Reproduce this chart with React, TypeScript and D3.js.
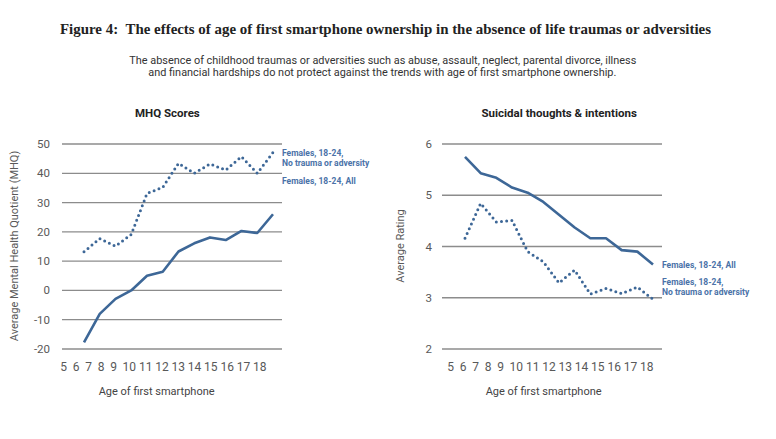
import React from "react";
import * as d3 from "d3";

const ages = [6, 7, 8, 9, 10, 11, 12, 13, 14, 15, 16, 17, 18];
const tickLabels = ["5", "6", "7", "8", "9", "10", "11", "12", "13", "14", "15", "16", "17", "18"];

const mhqAll = [-17.7, -8.0, -2.9, 0.0, 5.0, 6.4, 13.3, 16.1, 18.1, 17.2, 20.3, 19.6, 26.0];
const mhqNoTrauma = [13.2, 17.7, 15.1, 19.1, 33.1, 35.2, 43.4, 40.0, 43.2, 41.1, 45.7, 40.0, 47.1];
const mhqTicks = [50, 40, 30, 20, 10, 0, -10, -20];

const suiAll = [5.75, 5.43, 5.34, 5.15, 5.05, 4.87, 4.62, 4.37, 4.16, 4.16, 3.93, 3.9, 3.65];
const suiNoTrauma = [4.16, 4.84, 4.48, 4.51, 3.9, 3.7, 3.29, 3.54, 3.07, 3.18, 3.08, 3.21, 2.97];
const suiTicks = [6, 5, 4, 3, 2];

const BLUE = "#3d6797";
const LABEL_BLUE = "#4a72a8";
const GRID = "#8c8c8c";
const TEXT = "#595959";

function tickPositions(labels: string[], start: number) {
  const digitW = 6.7;
  const out: number[] = [];
  let x = start;
  labels.forEach((l, i) => {
    if (i > 0) {
      const prev = labels[i - 1];
      const gap = prev.length === 1 ? 5.8 : 2.9;
      x += (prev.length * digitW) / 2 + gap + (l.length * digitW) / 2;
    }
    out.push(x);
  });
  return out;
}

type PanelProps = {
  title: string;
  titleX: number;
  gridX: [number, number];
  dataX: [number, number];
  yDomain: [number, number];
  yTicks: number[];
  all: number[];
  noTrauma: number[];
  yLabel: string;
  yLabelX: number;
  tickLabelX: number;
  tickStart: number;
  labelX: number;
  allLabelY: number;
  ntLabelY: number;
};

function Panel(p: PanelProps) {
  const y = d3.scaleLinear().domain(p.yDomain).range([349, 144]);
  const x = d3.scaleLinear().domain([6, 18]).range(p.dataX);
  const line = d3
    .line<number>()
    .x((_, i) => x(ages[i]))
    .y((v) => y(v));
  const tp = tickPositions(tickLabels, p.tickStart);
  const xCenter = (tp[0] + tp[tp.length - 1]) / 2;
  return (
    <g>
      <text x={p.titleX} y={117} fontFamily="Roboto" fontWeight="bold" fontSize={11.5} fill="#222">
        {p.title}
      </text>
      {p.yTicks.map((t) => (
        <g key={t}>
          <line x1={p.gridX[0]} x2={p.gridX[1]} y1={y(t)} y2={y(t)} stroke={GRID} strokeWidth={1.3} />
          <text x={p.tickLabelX} y={y(t) + 4} textAnchor="end" fontFamily="Roboto" fontSize={11.5} fill={TEXT}>
            {t}
          </text>
        </g>
      ))}
      {tickLabels.map((l, i) => (
        <text key={l} x={tp[i]} y={371} textAnchor="middle" fontFamily="Roboto" fontSize={12} fill={TEXT}>
          {l}
        </text>
      ))}
      <text x={xCenter - 5} y={395} textAnchor="middle" fontFamily="Roboto" fontSize={11} fill="#444">
        Age of first smartphone
      </text>
      <text
        transform={`translate(${p.yLabelX},${246}) rotate(-90)`}
        textAnchor="middle"
        fontFamily="Roboto"
        fontSize={11}
        fill={TEXT}
      >
        {p.yLabel}
      </text>
      <path d={line(p.all) || ""} fill="none" stroke={BLUE} strokeWidth={2.6} strokeLinejoin="round" />
      <path
        d={line(p.noTrauma) || ""}
        fill="none"
        stroke={BLUE}
        strokeWidth={3}
        strokeLinecap="round"
        strokeDasharray="0 5.2"
      />
      <text x={p.labelX} y={p.allLabelY} fontFamily="Roboto" fontWeight="bold" fontSize={8.5} fill={LABEL_BLUE}>
        Females, 18-24, All
      </text>
      <text x={p.labelX} y={p.ntLabelY} fontFamily="Roboto" fontWeight="bold" fontSize={8.5} fill={LABEL_BLUE}>
        <tspan x={p.labelX}>Females, 18-24,</tspan>
        <tspan x={p.labelX} dy={9.5}>
          No trauma or adversity
        </tspan>
      </text>
    </g>
  );
}

export default function App() {
  return (
    <svg
      width={776}
      height={439}
      viewBox="0 0 776 439"
      style={{ position: "absolute", left: 0, top: 0, background: "#fff" }}
    >
      <rect width={776} height={439} fill="#fff" />
      <text
        x={385.5}
        y={34}
        textAnchor="middle"
        fontFamily="Liberation Serif"
        fontWeight="bold"
        fontSize={14.5}
        fill="#222"
        textLength={651}
        lengthAdjust="spacingAndGlyphs"
      >
        Figure 4:{"\u00a0\u00a0"}The effects of age of first smartphone ownership in the absence of life traumas or adversities
      </text>
      <text
        x={382.8}
        y={63.5}
        textAnchor="middle"
        fontFamily="Roboto"
        fontSize={11}
        fill="#333"
        textLength={507}
        lengthAdjust="spacingAndGlyphs"
      >
        The absence of childhood traumas or adversities such as abuse, assault, neglect, parental divorce, illness
      </text>
      <text
        x={382.3}
        y={76}
        textAnchor="middle"
        fontFamily="Roboto"
        fontSize={11}
        fill="#333"
        textLength={468}
        lengthAdjust="spacingAndGlyphs"
      >
        and financial hardships do not protect against the trends with age of first smartphone ownership.
      </text>
      <Panel
        title="MHQ Scores"
        titleX={135}
        gridX={[62, 282]}
        dataX={[84, 273]}
        yDomain={[-20, 50]}
        yTicks={mhqTicks}
        all={mhqAll}
        noTrauma={mhqNoTrauma}
        yLabel="Average Mental Health Quotient (MHQ)"
        yLabelX={18}
        tickLabelX={50}
        tickStart={63.5}
        labelX={282}
        allLabelY={184}
        ntLabelY={156}
      />
      <Panel
        title="Suicidal thoughts & intentions"
        titleX={481.5}
        gridX={[442, 662]}
        dataX={[465, 653]}
        yDomain={[2, 6]}
        yTicks={suiTicks}
        all={suiAll}
        noTrauma={suiNoTrauma}
        yLabel="Average Rating"
        yLabelX={404}
        tickLabelX={432}
        tickStart={450.5}
        labelX={662}
        allLabelY={268}
        ntLabelY={285}
      />
    </svg>
  );
}
